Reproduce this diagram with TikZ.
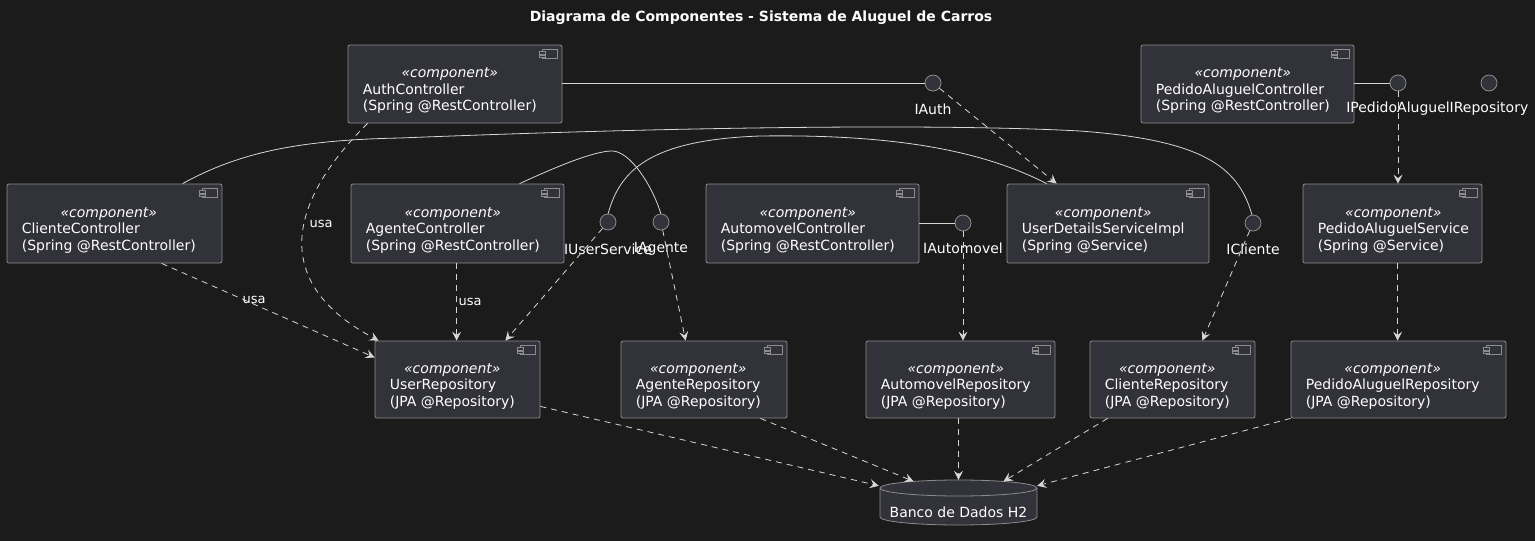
\documentclass[tikz,border=0pt]{standalone}
\usepackage{fontspec}
\setmainfont{DejaVu Sans}
\usetikzlibrary{arrows.meta,calc}
\definecolor{bg}{HTML}{1B1B1B}
\definecolor{boxfill}{HTML}{32323A}
\definecolor{boxline}{HTML}{8C8C8C}
\definecolor{wire}{HTML}{D6D6D6}
\newcommand\cmpbox[7]{%
  \node[comp, minimum width={#4-#2}, minimum height={#5-#3}] (#1) at ({(#2+#4)/2},{(#3+#5)/2}) {};
  \draw[iconline] ($(#1.north east)+(-20,5)$) rectangle ($(#1.north east)+(-5,14)$);
  \draw[iconline] ($(#1.north east)+(-23,7)$) rectangle ($(#1.north east)+(-17,9.3)$);
  \draw[iconline] ($(#1.north east)+(-23,10.7)$) rectangle ($(#1.north east)+(-17,13)$);
  \node[ctext] (#1t) at ($(#1.west)+(15,7)$) {\begin{tabular}{@{}l@{}}\multicolumn{1}{@{}c@{}}{\itshape «component»}\\#6\\#7\end{tabular}};
}
\begin{document}
\begin{tikzpicture}[x=1pt,y=-1pt,
  comp/.style={draw=boxline, fill=boxfill, rounded corners=2pt, line width=0.8pt, inner sep=0},
  iconline/.style={draw=boxline, fill=boxfill, line width=0.6pt},
  ctext/.style={text=white, font=\fontsize{14}{16.5}\selectfont, anchor=west, inner sep=0},
  iface/.style={circle, draw=boxline, fill=boxfill, minimum size=16pt, inner sep=0, line width=0.8pt},
  ilabel/.style={text=white, font=\fontsize{14}{16}\selectfont, inner sep=0},
  dep/.style={draw=wire, line width=0.8pt, dash pattern=on 6pt off 5pt, -{Stealth[length=9pt,width=9pt,inset=3.5pt,fill=wire]}},
  link/.style={draw=wire, line width=0.8pt},
  lbl/.style={text=white, font=\fontsize{13}{15}\selectfont, inner sep=0},
]
\fill[bg] (0,0) rectangle (1535,541);
\useasboundingbox (0,0) rectangle (1535,541);

\node[text=white, font=\bfseries\fontsize{14}{16}\selectfont, inner sep=0] (title) at (761,18) {Diagrama de Componentes - Sistema de Aluguel de Carros};

% components
\cmpbox{auth}{348}{45}{562}{123}{AuthController}{(Spring @RestController)}
\cmpbox{pac}{1141}{45}{1354}{123}{PedidoAluguelController}{(Spring @RestController)}
\cmpbox{cc}{7}{184}{222}{263}{ClienteController}{(Spring @RestController)}
\cmpbox{ac}{351}{184}{564}{263}{AgenteController}{(Spring @RestController)}
\cmpbox{autc}{706}{184}{919}{263}{AutomovelController}{(Spring @RestController)}
\cmpbox{uds}{1007}{184}{1209}{263}{UserDetailsServiceImpl}{(Spring @Service)}
\cmpbox{pas}{1303}{184}{1482}{263}{PedidoAluguelService}{(Spring @Service)}
\cmpbox{ur}{375}{341}{540}{418}{UserRepository}{(JPA @Repository)}
\cmpbox{ar}{621}{341}{787}{418}{AgenteRepository}{(JPA @Repository)}
\cmpbox{autr}{866}{341}{1055}{418}{AutomovelRepository}{(JPA @Repository)}
\cmpbox{cr}{1090}{341}{1255}{418}{ClienteRepository}{(JPA @Repository)}
\cmpbox{par}{1291}{341}{1506}{418}{PedidoAluguelRepository}{(JPA @Repository)}

% database
\node[minimum width=157pt, minimum height=45pt, inner sep=0] (db) at (958.5,502.5) {};
\path[draw=boxline, fill=boxfill, line width=0.8pt] (880,488) -- (880,517)
  arc[start angle=180, end angle=0, x radius=78.5, y radius=8] -- (1037,488)
  arc[start angle=0, end angle=-180, x radius=78.5, y radius=8] -- cycle;
\draw[boxline, line width=0.8pt] (880,488) arc[start angle=180, end angle=0, x radius=78.5, y radius=8];
\node[text=white, font=\fontsize{14}{16}\selectfont, inner sep=0] (dbt) at (958.5,512) {Banco de Dados H2};

% solid curves (drawn before interfaces)
\draw[link] ($(cc.north west)+(176,0)$) .. controls (240,152) and (300,140) .. (400,138)
  .. controls (700,126) and (950,124) .. (1080,131)
  .. controls (1200,140) and (1238,165) .. (1252,215);
\draw[link] ($(ac.north west)+(169,0)$) .. controls (560,165) and (595,151) .. (612,151)
  .. controls (630,151) and (652,185) .. (661,214);
\draw[link] (608,214) .. controls (620,170) and (650,140) .. (760,136)
  .. controls (900,134) and (985,152) .. ($(uds.north west)+(40,0)$);

% interfaces
\node[iface] (iauth) at (933,83) {};
\node[ilabel] (iauthl) at (933,109) {IAuth};
\node[iface] (ipa) at (1398,83) {};
\node[ilabel] (ipal) at (1398,109) {IPedidoAluguel};
\node[iface] (irep) at (1489,83) {};
\node[ilabel] (irepl) at (1489,109) {IRepository};
\node[iface] (ius) at (608,222) {};
\node[ilabel] (iusl) at (608,249) {IUserService};
\node[iface] (iag) at (661,222) {};
\node[ilabel] (iagl) at (661,249) {IAgente};
\node[iface] (iaut) at (963,223) {};
\node[ilabel] (iautl) at (963,248) {IAutomovel};
\node[iface] (icl) at (1253,223) {};
\node[ilabel] (icll) at (1253,249) {ICliente};

% solid links
\draw[link] (auth.east |- iauth) -- (iauth);
\draw[link] (pac.east |- ipa) -- (ipa);
\draw[link] (autc.east |- iaut) -- (iaut);

% dependencies
\draw[dep] (iauth) -- ($(uds.north west)+(50,0)$);
\draw[dep] (ius) -- ($(ur.north east)+(-35,0)$);
\draw[dep] (iag) -- ($(ar.north west)+(65,0)$);
\draw[dep] (iaut) -- (iaut |- autr.north);
\draw[dep] (icl) -- ($(cr.north east)+(-53,0)$);
\draw[dep] (ipa) -- (ipa |- pas.north);
\draw[dep] ($(pas.south west)+(95,0)$) -- ($(par.north west)+(107,0)$);
\draw[dep] ($(ac.south west)+(106,0)$) -- ($(ur.north west)+(82,0)$);
\node[lbl] (usa1) at (470,302) {usa};
\draw[dep] ($(cc.south west)+(155,0)$) -- ($(ur.west)+(0,-22)$);
\node[lbl] (usa2) at (254,300) {usa};
\draw[dep] ($(auth.south west)+(20,0)$) .. controls (305,185) and (255,275) .. ($(ur.north west)+(4,0)$);
\node[lbl] (usa3) at (321,224) {usa};

% to database
\draw[dep] ($(ur.south east)+(0,-12)$) -- ($(db.north west)+(-1,6)$);
\draw[dep] ($(ar.south east)+(-27,0)$) -- ($(db.north)+(-45,1.5)$);
\draw[dep] (autr.south -| db.north) -- (db.north);
\draw[dep] ($(cr.south west)+(18,0)$) -- ($(db.north)+(45,1.5)$);
\draw[dep] (par.south west) -- ($(db.north east)+(0,6)$);
\end{tikzpicture}
\end{document}
